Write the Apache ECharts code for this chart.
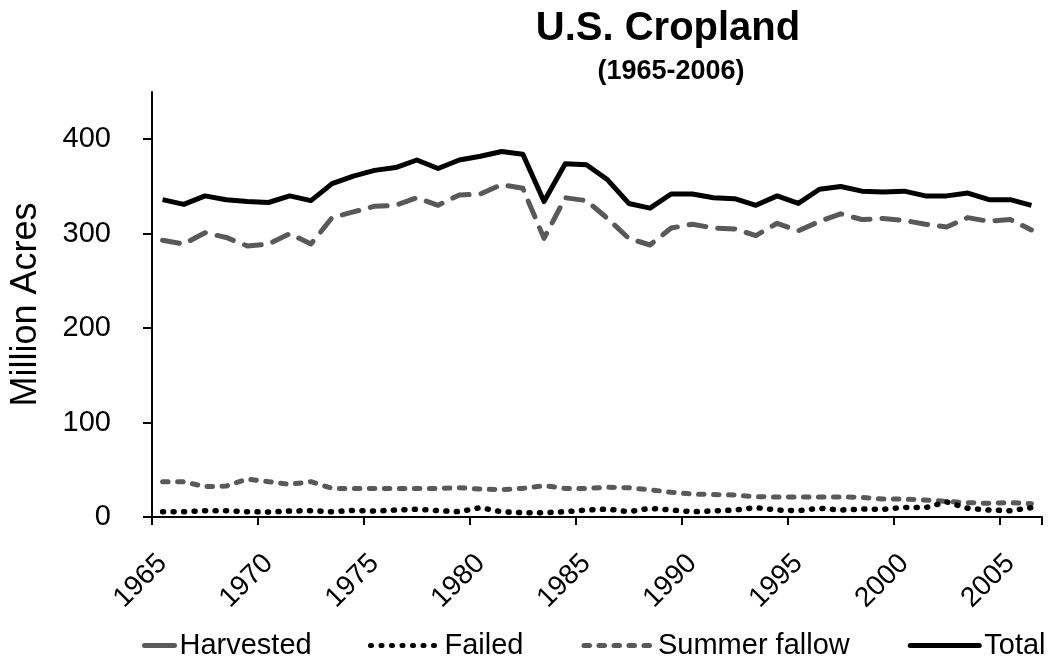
<!DOCTYPE html>
<html>
<head>
<meta charset="utf-8">
<title>U.S. Cropland</title>
<script src="https://cdn.jsdelivr.net/npm/echarts@6/dist/echarts.min.js"></script>
<style>
  html, body { margin: 0; padding: 0; background: #fff; }
  #chart { width: 1051px; height: 662px; }
</style>
</head>
<body>
<div id="chart"></div>
<script>
// Years on the category axis
const years = [
  1965, 1966, 1967, 1968, 1969, 1970, 1971, 1972, 1973, 1974,
  1975, 1976, 1977, 1978, 1979, 1980, 1981, 1982, 1983, 1984,
  1985, 1986, 1987, 1988, 1989, 1990, 1991, 1992, 1993, 1994,
  1995, 1996, 1997, 1998, 1999, 2000, 2001, 2002, 2003, 2004,
  2005, 2006
].map(String);

// Million acres
const harvested = [
  293, 289, 301, 296, 287, 289, 300, 289, 317, 323,
  329, 330, 338, 330, 341, 342, 352, 348, 295, 338,
  335, 316, 295, 288, 306, 310, 306, 305, 298, 311,
  303, 313, 321, 315, 316, 314, 310, 307, 317, 313,
  315, 304
];
const failed = [
  5.6, 5.6, 6.7, 6.7, 5.6, 5.3, 6.3, 6.7, 5.6, 7.0,
  6.3, 7.4, 8.2, 6.7, 5.6, 9.9, 5.6, 4.6, 4.6, 5.6,
  7.4, 8.4, 5.6, 9.2, 7.4, 5.6, 6.5, 7.4, 9.9, 7.4,
  6.7, 9.2, 7.4, 8.4, 8.1, 10.2, 9.9, 16.0, 9.2, 7.4,
  6.7, 9.9
];
const summerFallow = [
  37.4, 37.4, 32.1, 32.8, 40.2, 37.4, 34.6, 37.4, 30.3, 30.3,
  30.3, 30.3, 30.3, 30.3, 31.0, 29.6, 28.9, 30.3, 33.2, 30.3,
  30.3, 31.4, 31.0, 28.9, 26.1, 24.3, 23.8, 23.3, 21.5, 21.2,
  21.2, 21.2, 21.2, 20.8, 19.0, 19.0, 18.0, 16.5, 15.2, 14.5,
  15.2, 14.0
];
const total = [
  336, 331, 340, 336, 334, 333, 340, 335, 353, 361,
  367, 370, 378, 369, 378, 382, 387, 384, 334, 374,
  373, 357, 332, 327, 342, 342, 338, 337, 330, 340,
  332, 347, 350, 345, 344, 345, 340, 340, 343, 336,
  336, 330
];

const yTicks = [0, 100, 200, 300, 400];

const FONT = '"Liberation Sans", Arial, Helvetica, sans-serif';
const GRAY = '#595959';

// Legend entries draw only the series line, no marker
const legendBase = {
  top: 631,
  itemHeight: 14,
  padding: 0,
  itemStyle: { color: 'transparent', borderColor: 'transparent', borderWidth: 0, opacity: 0 },
  lineStyle: { width: 5, cap: 'round' },
  textStyle: { fontFamily: FONT, fontSize: 29, color: '#000' }
};

const chart = echarts.init(document.getElementById('chart'), null, { renderer: 'canvas' });

chart.setOption({
  animation: false,
  backgroundColor: '#fff',
  title: [
    {
      text: 'U.S. Cropland',
      left: 668, top: 9, textAlign: 'center', padding: 0,
      textStyle: { fontFamily: FONT, fontSize: 40, fontWeight: 'bold', color: '#000' }
    },
    {
      text: '(1965-2006)',
      left: 671, top: 58, textAlign: 'center', padding: 0,
      textStyle: { fontFamily: FONT, fontSize: 27, fontWeight: 'bold', color: '#000' }
    }
  ],
  legend: [
    Object.assign({}, legendBase, {
      data: ['Harvested'],
      left: 142,
      itemWidth: 30,
      lineStyle: { width: 5, cap: 'round', type: 'solid' }
    }),
    Object.assign({}, legendBase, {
      data: ['Failed', 'Summer fallow', 'Total'],
      left: 368,
      itemWidth: 69,
      itemGap: 58
    })
  ],
  grid: { left: 148, right: 9, top: 92, bottom: 145, containLabel: false },
  xAxis: {
    type: 'category',
    data: years,
    boundaryGap: true,
    axisLine: { lineStyle: { color: '#000', width: 2 } },
    axisTick: { show: true, interval: 4, length: 8, lineStyle: { color: '#000', width: 2 } },
    axisLabel: {
      interval: 4, rotate: 45, margin: 42,
      fontFamily: FONT, fontSize: 28, color: '#000'
    },
    splitLine: { show: false }
  },
  yAxis: {
    type: 'value',
    min: 0, max: 450, interval: 100,
    name: 'Million Acres',
    nameLocation: 'middle',
    nameGap: 108,
    nameTextStyle: { fontFamily: FONT, fontSize: 36, color: '#000' },
    axisLine: { show: true, lineStyle: { color: '#000', width: 2 } },
    axisTick: { show: true, length: 9, customValues: yTicks, lineStyle: { color: '#000', width: 2 } },
    axisLabel: {
      customValues: yTicks, margin: 41,
      fontFamily: FONT, fontSize: 29, color: '#000'
    },
    splitLine: { show: false }
  },
  series: [
    {
      name: 'Harvested', type: 'line', data: harvested,
      symbol: 'none', z: 3,
      lineStyle: { color: GRAY, width: 5, type: [17, 12], cap: 'round', join: 'round' },
      itemStyle: { color: GRAY }
    },
    {
      name: 'Failed', type: 'line', data: failed,
      symbol: 'none', z: 4,
      lineStyle: { color: '#000', width: 5.5, type: [1, 9.5], cap: 'round', join: 'round' },
      itemStyle: { color: '#000' }
    },
    {
      name: 'Summer fallow', type: 'line', data: summerFallow,
      symbol: 'none', z: 3,
      lineStyle: { color: GRAY, width: 5, type: [5.5, 9.5], cap: 'round', join: 'round' },
      itemStyle: { color: GRAY }
    },
    {
      name: 'Total', type: 'line', data: total,
      symbol: 'none', z: 5,
      lineStyle: { color: '#000', width: 5, type: 'solid', join: 'round' },
      itemStyle: { color: '#000' }
    }
  ]
});
</script>
</body>
</html>
